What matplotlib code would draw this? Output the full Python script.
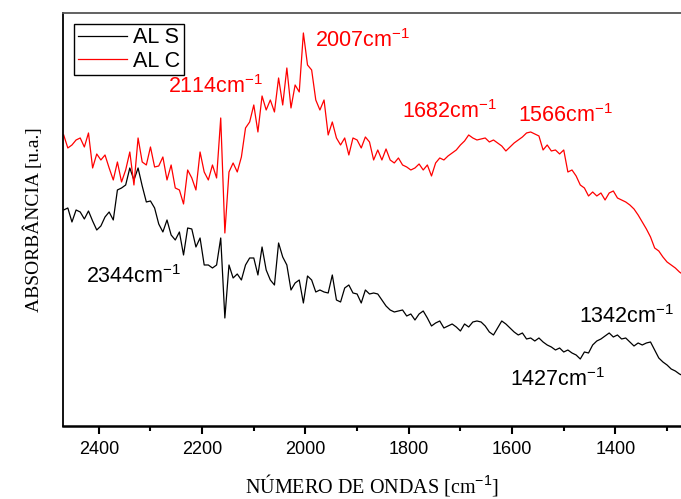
import numpy as np
import matplotlib
matplotlib.use("Agg")
import matplotlib.pyplot as plt
from matplotlib.ticker import MultipleLocator

plt.rcParams['font.family'] = ['Liberation Sans', 'DejaVu Sans']
plt.rcParams['mathtext.fontset'] = 'custom'
plt.rcParams['mathtext.rm'] = 'Liberation Sans'
plt.rcParams['mathtext.it'] = 'Liberation Sans'

# wavenumber grid, 8 cm-1 step
wn = np.arange(2468, 1267, -8)

al_c = [2.95, 2.82, 2.85, 2.90, 2.92, 2.83, 2.97, 2.62, 2.76, 2.70,
        2.75, 2.62, 2.50, 2.68, 2.48, 2.60, 2.78, 2.45, 2.92, 2.68,
        2.65, 2.83, 2.63, 2.64, 2.73, 2.50, 2.65, 2.42, 2.40, 2.26,
        2.60, 2.52, 2.40, 2.78, 2.58, 2.50, 2.65, 2.52, 3.12, 1.97,
        2.58, 2.67, 2.58, 2.73, 3.02, 3.08, 3.25, 2.98, 3.34, 3.20,
        3.30, 3.18, 3.52, 3.25, 3.62, 3.22, 3.45, 3.38, 3.97, 3.65,
        3.60, 3.30, 3.20, 3.30, 2.95, 3.08, 2.92, 2.85, 2.92, 2.75,
        2.92, 2.90, 2.82, 2.93, 2.88, 2.70, 2.80, 2.70, 2.81, 2.70,
        2.67, 2.72, 2.65, 2.63, 2.60, 2.62, 2.66, 2.60, 2.65, 2.54,
        2.67, 2.72, 2.70, 2.74, 2.77, 2.80, 2.85, 2.89, 2.95, 2.92,
        2.90, 2.91, 2.92, 2.88, 2.90, 2.87, 2.84, 2.79, 2.83, 2.87,
        2.90, 2.93, 2.97, 2.98, 2.96, 2.94, 2.80, 2.85, 2.79, 2.80,
        2.76, 2.80, 2.58, 2.60, 2.54, 2.45, 2.42, 2.34, 2.38, 2.34,
        2.37, 2.30, 2.37, 2.39, 2.32, 2.30, 2.28, 2.25, 2.21, 2.15,
        2.08, 2.01, 1.93, 1.82, 1.79, 1.73, 1.68, 1.65, 1.62, 1.58,
        1.55]

al_s = [2.20, 2.22, 2.08, 2.20, 2.18, 2.11, 2.19, 2.09, 2.00, 2.04,
        2.13, 2.18, 2.10, 2.40, 2.42, 2.45, 2.62, 2.50, 2.62, 2.44,
        2.28, 2.29, 2.22, 2.06, 1.98, 2.10, 1.95, 1.90, 1.98, 1.75,
        2.02, 2.01, 1.83, 1.92, 1.65, 1.65, 1.62, 1.65, 1.92, 1.12,
        1.65, 1.52, 1.56, 1.50, 1.65, 1.72, 1.72, 1.55, 1.83, 1.60,
        1.50, 1.45, 1.87, 1.73, 1.65, 1.40, 1.47, 1.50, 1.27, 1.54,
        1.50, 1.38, 1.40, 1.38, 1.37, 1.55, 1.30, 1.28, 1.42, 1.45,
        1.37, 1.36, 1.27, 1.40, 1.36, 1.37, 1.36, 1.30, 1.24, 1.20,
        1.18, 1.19, 1.20, 1.14, 1.16, 1.10, 1.16, 1.19, 1.12, 1.04,
        1.07, 1.09, 1.02, 1.04, 1.06, 1.03, 0.99, 1.06, 1.03, 1.08,
        1.09, 1.08, 1.04, 0.98, 0.95, 1.02, 1.09, 1.06, 1.02, 0.98,
        0.95, 0.97, 0.91, 0.92, 0.89, 0.92, 0.88, 0.85, 0.83, 0.80,
        0.82, 0.78, 0.80, 0.77, 0.75, 0.71, 0.78, 0.77, 0.85, 0.89,
        0.91, 0.94, 0.97, 0.93, 0.95, 0.91, 0.92, 0.88, 0.84, 0.87,
        0.85, 0.87, 0.88, 0.80, 0.72, 0.68, 0.65, 0.61, 0.59, 0.56,
        0.54]

# peak labels: text, x (left edge), y (baseline)
labels_red = [("2114", 2267, 3.37), ("2007", 1982, 3.83),
              ("1682", 1814, 3.12), ("1566", 1589, 3.08)]
labels_black = [("2344", 2425, 1.47), ("1427", 1604, 0.44),
                ("1342", 1470, 1.07)]

fig = plt.figure(figsize=(6.81, 4.99), dpi=100)
ax = fig.add_axes([0.092, 0.1463, 0.908, 0.8277])

ax.plot(wn, al_s, color='black', lw=0.9, label='AL S')
ax.plot(wn, al_c, color='#ff0000', lw=0.9, label='AL C')

ax.set_xlim(2470, 1273)
ax.set_ylim(0.04, 4.17)

ax.xaxis.set_major_locator(MultipleLocator(200))
ax.xaxis.set_minor_locator(MultipleLocator(100))
ax.tick_params(axis='x', which='major', direction='out', length=6, width=1.5,
               labelsize=13, pad=5)
ax.tick_params(axis='x', which='minor', direction='out', length=3.5, width=1.5)
ax.set_yticks([])
ax.spines['right'].set_visible(False)
for s in ['left', 'top']:
    ax.spines[s].set_linewidth(1.3)
ax.spines['bottom'].set_linewidth(1.8)
ax.spines['top'].set_color('#555555')

ax.set_xlabel('NÚMERO DE ONDAS [cm$^{-1}$]', family='Liberation Serif',
              fontsize=14.5, labelpad=10)
ax.set_ylabel('ABSORBÂNCIA [u.a.]', family='Liberation Serif', fontsize=14,
              labelpad=14)

for txt, x, y in labels_red:
    ax.text(x, y, txt + 'cm$^{-1}$', color='#ff0000', fontsize=15.5,
            va='baseline', ha='left', clip_on=False)
for txt, x, y in labels_black:
    ax.text(x, y, txt + 'cm$^{-1}$', color='black', fontsize=15.5,
            va='baseline', ha='left', clip_on=False)

leg = ax.legend(loc='upper left', bbox_to_anchor=(0.0188, 0.973),
                borderaxespad=0, fontsize=15.5, handlelength=2.3,
                labelspacing=0.1, borderpad=0.15, handletextpad=0.3,
                fancybox=False, framealpha=1, edgecolor='black')
leg.get_frame().set_linewidth(1.0)

fig.savefig('out.png', dpi=100)
